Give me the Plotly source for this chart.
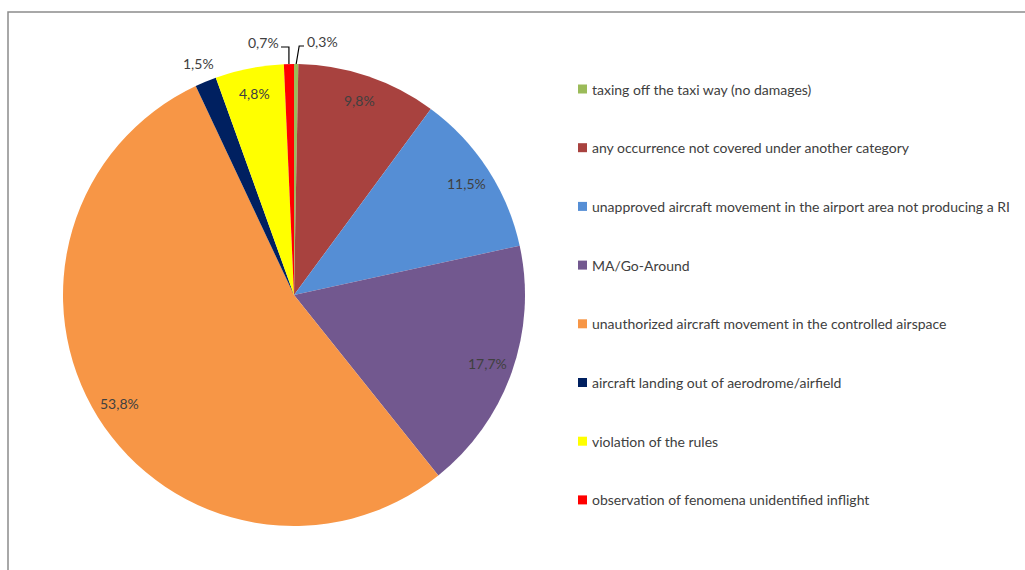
import math
import plotly.graph_objects as go

# Occurrence categories, in clockwise order from 12 o'clock
categories = [
    "taxing off the taxi way (no damages)",
    "any occurrence not covered under another category",
    "unapproved aircraft movement in the airport area not producing a RI",
    "MA/Go-Around",
    "unauthorized aircraft movement in the controlled airspace",
    "aircraft landing out of aerodrome/airfield",
    "violation of the rules",
    "observation of fenomena unidentified inflight",
]
shares = [0.3, 9.8, 11.5, 17.7, 53.8, 1.5, 4.8, 0.7]
colors = ["#9BBB59", "#A8423F", "#558ED5", "#72588F",
          "#F79646", "#002060", "#FFFF00", "#FF0000"]

# Page geometry (pixels)
W, H = 1025, 570
CX, CY, R = 294, 295, 231
FONT = "Lato, Calibri, Arial, sans-serif"
TXT = "#404040"
FS = 14


def px(x, y):
    """Pixel position -> paper coordinates."""
    return x / W, 1 - y / H


def fmt(v):
    return f"{v:.1f}".replace(".", ",") + "%"


fig = go.Figure(go.Pie(
    labels=categories,
    values=shares,
    sort=False,
    direction="clockwise",
    rotation=0,
    marker=dict(colors=colors, line=dict(width=0)),
    textinfo="none",
    hoverinfo="label+percent",
    showlegend=False,
    domain=dict(x=[(CX - R) / W, (CX + R) / W],
                y=[1 - (CY + R) / H, 1 - (CY - R) / H]),
))

annotations = []
shapes = []

# chart-area frame
shapes.append(dict(type="rect", xref="paper", yref="paper",
                   x0=8 / W, y0=-0.05, x1=1.05, y1=1 - 12 / H,
                   line=dict(color="#8C8C8C", width=1.5), fillcolor="rgba(0,0,0,0)"))

# slice mid-angles (degrees clockwise from 12 o'clock)
total = sum(shares)
mids = []
acc = 0.0
for v in shares:
    mids.append((acc + v / 2) / total * 360)
    acc += v


def polar(frac, ang):
    a = math.radians(ang)
    return CX + frac * R * math.sin(a), CY - frac * R * math.cos(a)


# value labels
leader = {0: (322, 41, 1), 7: (263, 42, -1)}   # small slices with elbow leaders
for i, (v, ang) in enumerate(zip(shares, mids)):
    if i in leader:
        tx, ty, side = leader[i]
        ex, ey = polar(1.0, ang)
        tip_x = tx - side * 18
        elbow_x = ex + side * 3 if side > 0 else ex
        xs = [tip_x, elbow_x, ex]
        ys = [ty + 5, ty + 5, ey]
        path = "M " + " L ".join(f"{px(a, b)[0]},{px(a, b)[1]}" for a, b in zip(xs, ys))
        shapes.append(dict(type="path", xref="paper", yref="paper", path=path,
                           line=dict(color="#000000", width=1.2)))
        x, y = px(tx, ty)
    elif v < 2:
        x, y = px(*polar(1.085, ang))
    else:
        x, y = px(*polar(0.89, ang))
    annotations.append(dict(text=fmt(v), x=x, y=y, xref="paper", yref="paper",
                            showarrow=False, xanchor="center", yanchor="middle",
                            font=dict(family=FONT, size=FS, color=TXT)))

# legend, one row per category
LEG_X, LEG_Y0, LEG_DY, SW = 578, 89, 58.7, 9
for i, (name, c) in enumerate(zip(categories, colors)):
    yc = LEG_Y0 + i * LEG_DY
    x0, y0 = px(LEG_X, yc - SW / 2)
    x1, y1 = px(LEG_X + SW, yc + SW / 2)
    shapes.append(dict(type="rect", xref="paper", yref="paper",
                       x0=x0, y0=y0, x1=x1, y1=y1, fillcolor=c, line=dict(width=0)))
    tx, ty = px(LEG_X + SW + 3, yc)
    annotations.append(dict(text=name, x=tx, y=ty, xref="paper", yref="paper",
                            showarrow=False, xanchor="left", yanchor="middle",
                            font=dict(family=FONT, size=FS, color=TXT)))

fig.update_layout(
    width=W, height=H,
    margin=dict(l=0, r=0, t=0, b=0),
    paper_bgcolor="white",
    plot_bgcolor="white",
    annotations=annotations,
    shapes=shapes,
)

fig.write_html("out.html")
